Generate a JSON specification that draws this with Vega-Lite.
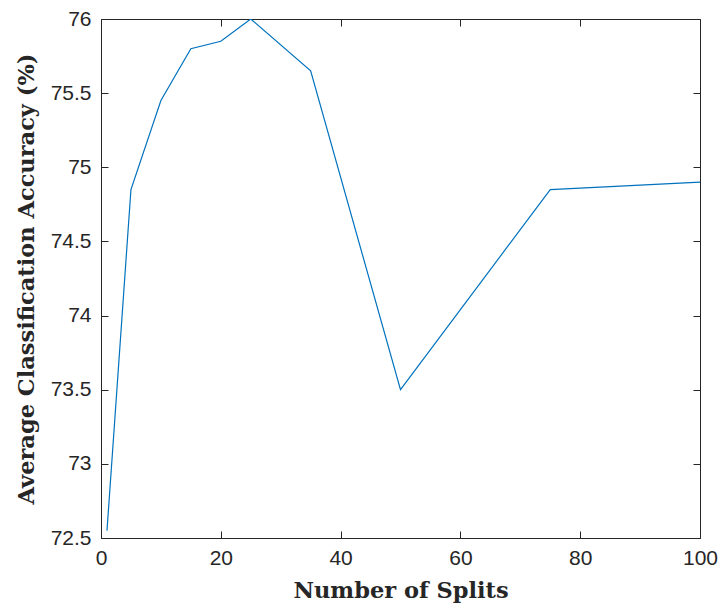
{
  "$schema": "https://vega.github.io/schema/vega-lite/v6.json",
  "autosize": {"type": "none"},
  "padding": {"left": 101, "top": 19, "right": 22, "bottom": 70},
  "width": 599,
  "height": 519,
  "background": "white",
  "config": {
    "view": {"stroke": null},
    "axis": {
      "grid": false,
      "domainColor": "#262626",
      "domainWidth": 1,
      "tickColor": "#262626",
      "tickWidth": 1,
      "tickSize": -7,
      "labelFlush": false,
      "labelOverlap": false,
      "labelFont": "Liberation Sans",
      "labelFontSize": 21,
      "labelColor": "#262626",
      "titleFont": "DejaVu Serif",
      "titleFontWeight": "bold",
      "titleFontSize": 22.5,
      "titleColor": "#262626"
    }
  },
  "data": {
    "values": [
      {"splits": 1, "accuracy": 72.55},
      {"splits": 5, "accuracy": 74.85},
      {"splits": 10, "accuracy": 75.45},
      {"splits": 15, "accuracy": 75.8},
      {"splits": 20, "accuracy": 75.85},
      {"splits": 25, "accuracy": 76.0},
      {"splits": 35, "accuracy": 75.65},
      {"splits": 50, "accuracy": 73.5},
      {"splits": 75, "accuracy": 74.85},
      {"splits": 100, "accuracy": 74.9}
    ]
  },
  "layer": [
    {
      "mark": {"type": "line", "color": "#0072BD", "strokeWidth": 1.2, "clip": true},
      "encoding": {
        "x": {
          "field": "splits", "type": "quantitative",
          "scale": {"domain": [0, 100], "nice": false, "zero": false},
          "axis": {"values": [0, 20, 40, 60, 80, 100], "format": "d", "title": "Number of Splits", "labelPadding": 16, "titlePadding": 11}
        },
        "y": {
          "field": "accuracy", "type": "quantitative",
          "scale": {"domain": [72.5, 76], "nice": false, "zero": false},
          "axis": {"values": [72.5, 73, 73.5, 74, 74.5, 75, 75.5, 76], "format": "~g", "title": "Average Classification Accuracy (%)", "labelPadding": 17, "titlePadding": 12}
        }
      }
    },
    {
      "mark": {"type": "line", "opacity": 0},
      "encoding": {
        "x": {
          "field": "splits", "type": "quantitative",
          "scale": {"domain": [0, 100], "nice": false, "zero": false},
          "axis": {"orient": "top", "values": [0, 20, 40, 60, 80, 100], "labels": false, "title": null}
        },
        "y": {
          "field": "accuracy", "type": "quantitative",
          "scale": {"domain": [72.5, 76], "nice": false, "zero": false},
          "axis": {"orient": "right", "values": [72.5, 73, 73.5, 74, 74.5, 75, 75.5, 76], "labels": false, "title": null}
        }
      }
    }
  ],
  "resolve": {"axis": {"x": "independent", "y": "independent"}}
}
